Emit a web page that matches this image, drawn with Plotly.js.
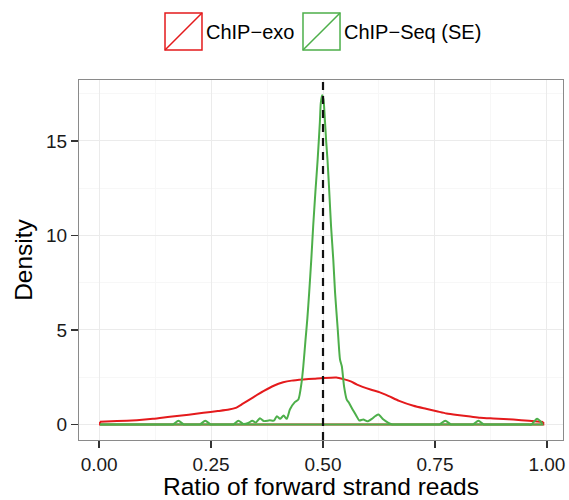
<!DOCTYPE html>
<html>
<head>
<meta charset="utf-8">
<script src="https://cdn.plot.ly/plotly-2.35.2.min.js"></script>
<style>html,body{margin:0;padding:0;background:#fff;}#chart{width:569px;height:500px;}</style>
</head>
<body>
<div id="chart"></div>
<script>
// ---- data ----
const seriesNames = ["ChIP\u2212exo", "ChIP\u2212Seq (SE)"];
const seriesColors = ["#E41A1C", "#4DAF4A"];

const exoX = [0.002,0.04,0.084,0.12,0.158,0.20,0.233,0.265,0.29,0.305,0.321,0.345,0.367,0.39,0.411,0.43,0.456,0.48,0.50,0.53,0.546,0.562,0.576,0.606,0.627,0.647,0.67,0.702,0.73,0.754,0.776,0.80,0.829,0.851,0.88,0.903,0.925,0.96,0.992];
const exoY = [0.15,0.18,0.23,0.30,0.41,0.52,0.62,0.71,0.79,0.88,1.10,1.45,1.76,2.05,2.23,2.32,2.38,2.42,2.46,2.49,2.40,2.28,2.11,1.85,1.70,1.50,1.25,0.99,0.83,0.70,0.58,0.50,0.42,0.36,0.32,0.29,0.26,0.20,0.13];

const seqX = [0.002,0.012,0.155,0.165,0.177,0.189,0.196,0.218,0.225,0.237,0.249,0.256,0.292,0.300,0.311,0.322,0.333,0.342,0.350,0.359,0.368,0.381,0.390,0.397,0.404,0.412,0.419,0.426,0.437,0.445,0.452,0.456,0.461,0.465,0.469,0.474,0.478,0.483,0.488,0.493,0.495,0.498,0.501,0.503,0.507,0.510,0.514,0.518,0.523,0.527,0.533,0.538,0.542,0.547,0.553,0.558,0.564,0.575,0.581,0.590,0.599,0.609,0.617,0.624,0.635,0.646,0.655,0.665,0.750,0.760,0.773,0.786,0.795,0.826,0.835,0.847,0.859,0.868,0.955,0.965,0.978,0.990];
const seqY = [0.0,0.0,0.0,0.0,0.2,0.0,0.0,0.0,0.0,0.2,0.0,0.0,0.0,0.0,0.2,0.03,0.08,0.2,0.1,0.33,0.18,0.22,0.2,0.44,0.3,0.47,0.3,0.79,1.18,1.32,2.2,3.08,4.5,5.6,6.95,8.8,10.47,12.3,14.0,16.0,17.0,17.42,17.2,16.6,15.0,14.0,12.3,10.47,8.7,6.95,5.0,3.43,3.08,2.02,1.32,1.15,0.88,0.44,0.21,0.26,0.17,0.30,0.45,0.53,0.26,0.09,0.0,0.0,0.0,0.0,0.2,0.0,0.0,0.0,0.0,0.2,0.0,0.0,0.0,0.0,0.3,0.05];

const refLine = 0.5;
const xTicks = [0, 0.25, 0.5, 0.75, 1];
const xTickLabels = ["0.00", "0.25", "0.50", "0.75", "1.00"];
const yTicks = [0, 5, 10, 15];
const yTickLabels = ["0", "5", "10", "15"];

// closing edges of each density outline along the baseline (ggplot polygon)
function base(xs, ys) {
  const n = xs.length - 1;
  return {x: [xs[n], xs[n], xs[0], xs[0]], y: [ys[n], 0, 0, ys[0]]};
}

const exoBase = base(exoX, exoY);
const seqBase = base(seqX, seqY);

const traces = [
  {x: exoBase.x, y: exoBase.y, mode: "lines", line: {color: seriesColors[0], width: 2}, showlegend: false, hoverinfo: "skip"},
  {x: exoX, y: exoY, mode: "lines", name: seriesNames[0], line: {color: seriesColors[0], width: 2, shape: "spline", smoothing: 0.6}, showlegend: false, hoverinfo: "skip"},
  {x: seqBase.x, y: seqBase.y, mode: "lines", line: {color: seriesColors[1], width: 2}, showlegend: false, hoverinfo: "skip"},
  {x: seqX, y: seqY, mode: "lines", name: seriesNames[1], line: {color: seriesColors[1], width: 2, shape: "spline", smoothing: 0.6}, showlegend: false, hoverinfo: "skip"}
];

const font = "Liberation Sans, Arial, Helvetica, sans-serif";
const textGrey = "#1a1a1a";

// legend keys (box with diagonal) drawn in paper coordinates
const keyBoxes = [[0.1777, 0.2541], [0.4628, 0.5393]];
const keyY = [1.0833, 1.1861];
const shapes = [
  {type: "line", xref: "x", yref: "paper", x0: refLine, x1: refLine, y0: 0, y1: 1,
   line: {color: "#111", width: 2.2, dash: "8px,6px"}, layer: "above"}
];
const annotations = [];
keyBoxes.forEach(function (b, i) {
  shapes.push({type: "rect", xref: "paper", yref: "paper", x0: b[0], x1: b[1], y0: keyY[0], y1: keyY[1],
    line: {color: seriesColors[i], width: 1.5}, fillcolor: "rgba(0,0,0,0)"});
  shapes.push({type: "line", xref: "paper", yref: "paper", x0: b[0], x1: b[1], y0: keyY[0], y1: keyY[1],
    line: {color: seriesColors[i], width: 1.5}});
  annotations.push({xref: "paper", yref: "paper", x: b[1] + 0.004, y: (keyY[0] + keyY[1]) / 2,
    xanchor: "left", yanchor: "middle", text: seriesNames[i], showarrow: false,
    font: {family: font, size: 20, color: "#000"}});
});

const layout = {
  width: 569, height: 500,
  margin: {l: 79, r: 6, t: 80, b: 60},
  paper_bgcolor: "#fff", plot_bgcolor: "#fff",
  showlegend: false,
  xaxis: {
    range: [-0.045, 1.036],
    tickvals: xTicks, ticktext: xTickLabels,
    ticks: "outside", ticklen: 7, tickwidth: 1.5, tickcolor: "#333",
    tickfont: {family: font, size: 19, color: textGrey},
    showgrid: true, gridcolor: "#ebebeb", gridwidth: 1,
    minor: {tickvals: [0.125, 0.375, 0.625, 0.875], showgrid: true, gridcolor: "#f7f7f7", gridwidth: 1, ticks: ""},
    zeroline: false,
    showline: true, mirror: true, linecolor: "#8a8a8a", linewidth: 1,
    title: {text: "Ratio of forward strand reads", font: {family: font, size: 24.5, color: "#000"}, standoff: 4}
  },
  yaxis: {
    range: [-0.82, 18.22],
    tickvals: yTicks, ticktext: yTickLabels,
    ticks: "outside", ticklen: 7, tickwidth: 1.5, tickcolor: "#333",
    tickfont: {family: font, size: 19, color: textGrey},
    showgrid: true, gridcolor: "#ebebeb", gridwidth: 1,
    minor: {tickvals: [2.5, 7.5, 12.5, 17.5], showgrid: true, gridcolor: "#f7f7f7", gridwidth: 1, ticks: ""},
    zeroline: false,
    showline: true, mirror: true, linecolor: "#8a8a8a", linewidth: 1,
    title: {text: "Density", font: {family: font, size: 24.5, color: "#000"}, standoff: 6}
  },
  shapes: shapes,
  annotations: annotations
};

Plotly.newPlot("chart", traces, layout, {displayModeBar: false, staticPlot: true});
</script>
</body>
</html>
